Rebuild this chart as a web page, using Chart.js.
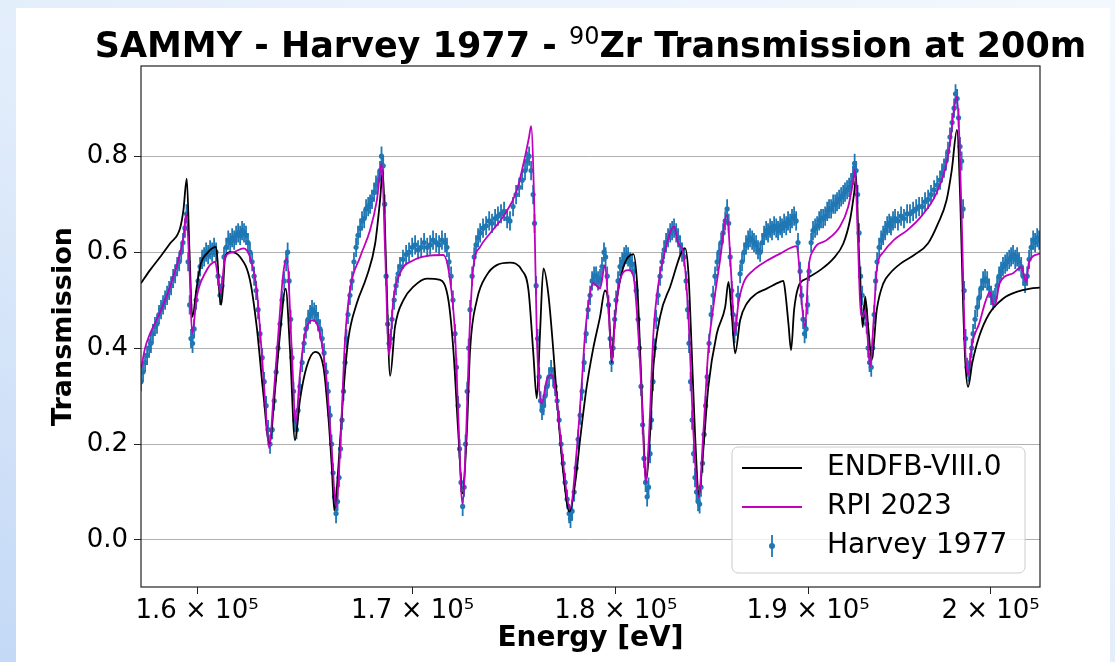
<!DOCTYPE html>
<html>
<head>
<meta charset="utf-8">
<script src="https://cdn.jsdelivr.net/npm/chart.js@4.4.0/dist/chart.umd.min.js"></script>
<style>
  html, body { margin: 0; padding: 0; }
  body {
    width: 1115px; height: 662px; overflow: hidden; position: relative;
    background: linear-gradient(to top right, #c4d9f6 0%, #e2edfb 45%, #f3f8fe 100%);
  }
  #hoja { position: absolute; left: 16px; top: 8px; width: 1094px; height: 654px; background: #fff; }
  #grafica { position: absolute; left: 0; top: 0; }
</style>
</head>
<body>
<div id="hoja"></div>
<canvas id="grafica" width="1115" height="662"></canvas>
<script>
// Ejes
const X_TICKS = [160000, 170000, 180000, 190000, 200000];
const X_LABELS = ['1.6 × 10⁵', '1.7 × 10⁵', '1.8 × 10⁵', '1.9 × 10⁵', '2 × 10⁵'];
const Y_TICKS = [0, 0.2, 0.4, 0.6, 0.8];

// ENDFB-VIII.0 (linea negra)
const ENDF_E = [157500, 157900, 158350, 158790, 159240, 159390, 159540, 159660, 159790, 159990,
  160170, 160440, 160860, 160930, 161000, 161090, 161180, 161270, 161500, 161950,
  162400, 162710, 163010, 163290, 163550, 163780, 164040, 164240, 164470, 164700,
  165010, 165400, 165790, 166020, 166180, 166300, 166490, 166720, 166950, 167350,
  167820, 168220, 168450, 168580, 168740, 168930, 169160, 169560, 170040, 170680,
  171320, 171720, 171960, 172200, 172400, 172610, 172770, 173100, 173580, 174070,
  174720, 175300, 175630, 175870, 176040, 176200, 176370, 176610, 176860, 177110,
  177360, 177660, 177950, 178200, 178530, 178860, 179200, 179450, 179630, 179790,
  179910, 180050, 180380, 180890, 181090, 181230, 181400, 181530, 181740, 181910,
  182250, 182770, 183540, 183710, 183880, 184050, 184260, 184480, 184740, 185180,
  185620, 185790, 185960, 186140, 186400, 186750, 187270, 187800, 188510, 188680,
  188770, 188950, 189090, 189250, 189480, 189930, 190640, 191360, 191890, 192250,
  192470, 192580, 192700, 192850, 192940, 193070, 193250, 193430, 193700, 194060,
  194430, 195000, 195750, 196510, 197070, 197540, 197830, 198120, 198310, 198460,
  198590, 198740, 198970, 199360, 199930, 200700, 201470, 202240, 202800];
const ENDF_T = [0.535, 0.5625, 0.590, 0.618, 0.650, 0.6875, 0.753, 0.604, 0.465, 0.528,
  0.576, 0.597, 0.611, 0.580, 0.520, 0.490, 0.530, 0.590, 0.600, 0.590,
  0.542, 0.444, 0.306, 0.201, 0.3125, 0.430, 0.524, 0.396, 0.208, 0.292,
  0.361, 0.392, 0.361, 0.257, 0.153, 0.061, 0.153, 0.306, 0.417, 0.493,
  0.549, 0.618, 0.708, 0.771, 0.569, 0.342, 0.444, 0.500, 0.528, 0.545,
  0.542, 0.500, 0.396, 0.222, 0.097, 0.222, 0.396, 0.500, 0.552, 0.573,
  0.578, 0.5625, 0.521, 0.389, 0.295, 0.430, 0.566, 0.514, 0.396, 0.257,
  0.139, 0.059, 0.118, 0.210, 0.320, 0.400, 0.465, 0.520, 0.490, 0.370,
  0.440, 0.500, 0.569, 0.596, 0.528, 0.396, 0.222, 0.125, 0.222, 0.361,
  0.465, 0.528, 0.608, 0.556, 0.396, 0.222, 0.094, 0.1875, 0.319, 0.430,
  0.486, 0.538, 0.470, 0.389, 0.458, 0.493, 0.514, 0.524, 0.538, 0.540,
  0.521, 0.451, 0.396, 0.479, 0.528, 0.545, 0.5625, 0.587, 0.618, 0.667,
  0.722, 0.757, 0.632, 0.493, 0.444, 0.507, 0.4375, 0.375, 0.479, 0.535,
  0.556, 0.576, 0.594, 0.618, 0.660, 0.708, 0.771, 0.855, 0.701, 0.493,
  0.368, 0.319, 0.368, 0.424, 0.472, 0.503, 0.517, 0.524, 0.526];

// RPI 2023 (linea magenta)
const RPI_E = [157500, 157680, 157900, 158350, 158790, 159240, 159390, 159510, 159660, 159780,
  159990, 160360, 160820, 160920, 161070, 161270, 161650, 162100, 162400, 162710,
  162940, 163090, 163280, 163470, 163700, 163930, 164090, 164320, 164500, 164700,
  164930, 165320, 165630, 165950, 166180, 166380, 166570, 166800, 167030, 167510,
  167980, 168300, 168530, 168690, 168880, 169080, 169400, 170040, 170680, 171480,
  171800, 172040, 172200, 172400, 172580, 172740, 172930, 173260, 173740, 174390,
  175060, 175460, 175660, 175760, 175910, 176040, 176290, 176530, 176780, 177030,
  177280, 177700, 178030, 178280, 178450, 178700, 178860, 179030, 179200, 179450,
  179620, 179810, 179960, 180210, 180640, 180890, 181140, 181320, 181520, 181690,
  181910, 182170, 182510, 182970, 183190, 183450, 183710, 183970, 184240, 184480,
  184740, 185000, 185350, 185700, 185960, 186110, 186310, 186570, 187100, 187800,
  188510, 189390, 189480, 189660, 189840, 190010, 190280, 190990, 191700, 192150,
  192430, 192520, 192670, 192800, 192940, 193070, 193200, 193340, 193520, 193700,
  194060, 194630, 195380, 196130, 196880, 197450, 197730, 197920, 198120, 198250,
  198410, 198550, 198740, 198970, 199360, 199740, 199970, 200120, 200250, 200510,
  201270, 201760, 201900, 202010, 202180, 202800];
const RPI_T = [0.355, 0.400, 0.430, 0.475, 0.528, 0.597, 0.630, 0.680, 0.569, 0.430,
  0.507, 0.556, 0.580, 0.556, 0.514, 0.590, 0.600, 0.608, 0.590, 0.521,
  0.389, 0.292, 0.191, 0.292, 0.430, 0.556, 0.587, 0.396, 0.243, 0.347,
  0.430, 0.458, 0.430, 0.326, 0.1875, 0.069, 0.1875, 0.417, 0.521, 0.590,
  0.646, 0.708, 0.785, 0.604, 0.385, 0.500, 0.556, 0.583, 0.592, 0.594,
  0.542, 0.430, 0.257, 0.076, 0.222, 0.430, 0.569, 0.611, 0.639, 0.674,
  0.729, 0.799, 0.840, 0.8625, 0.708, 0.430, 0.285, 0.333, 0.344, 0.292,
  0.1875, 0.066, 0.1875, 0.326, 0.430, 0.514, 0.536, 0.530, 0.524, 0.573,
  0.486, 0.372, 0.465, 0.542, 0.5625, 0.550, 0.430, 0.292, 0.118, 0.222,
  0.430, 0.535, 0.604, 0.653, 0.618, 0.597, 0.465, 0.222, 0.090, 0.222,
  0.396, 0.486, 0.583, 0.677, 0.535, 0.430, 0.493, 0.535, 0.5625, 0.582,
  0.597, 0.6125, 0.590, 0.493, 0.444, 0.5625, 0.604, 0.625, 0.653, 0.694,
  0.750, 0.772, 0.632, 0.493, 0.465, 0.479, 0.424, 0.361, 0.451, 0.5625,
  0.600, 0.625, 0.646, 0.674, 0.715, 0.771, 0.826, 0.889, 0.924, 0.840,
  0.632, 0.424, 0.344, 0.410, 0.451, 0.500, 0.517, 0.493, 0.490, 0.535,
  0.556, 0.569, 0.549, 0.538, 0.580, 0.597];

// Harvey 1977 (puntos con barras de error)
const HARVEY_E = [157500, 157590, 157680, 157770, 157860, 157940, 158030, 158120, 158210, 158300,
  158390, 158480, 158570, 158660, 158750, 158840, 158930, 159020, 159110, 159200,
  159290, 159370, 159460, 159530, 159600, 159670, 159730, 159800, 159870, 159960,
  160050, 160140, 160230, 160320, 160410, 160500, 160590, 160680, 160770, 160860,
  160950, 161040, 161130, 161220, 161320, 161410, 161500, 161590, 161680, 161770,
  161860, 161950, 162040, 162130, 162220, 162310, 162400, 162500, 162590, 162680,
  162770, 162860, 162960, 163050, 163140, 163230, 163320, 163420, 163510, 163600,
  163690, 163780, 163870, 163970, 164060, 164130, 164200, 164270, 164330, 164400,
  164470, 164540, 164610, 164700, 164800, 164890, 164980, 165080, 165170, 165260,
  165360, 165450, 165540, 165630, 165730, 165820, 165920, 166010, 166100, 166170,
  166240, 166310, 166380, 166450, 166520, 166590, 166660, 166730, 166800, 166870,
  166940, 167030, 167130, 167220, 167320, 167410, 167510, 167600, 167700, 167790,
  167890, 167980, 168070, 168170, 168260, 168360, 168450, 168520, 168600, 168670,
  168740, 168810, 168880, 168950, 169020, 169120, 169210, 169310, 169400, 169540,
  169690, 169830, 169980, 170120, 170260, 170410, 170550, 170700, 170840, 170980,
  171130, 171270, 171410, 171560, 171650, 171750, 171850, 171940, 172040, 172110,
  172190, 172260, 172330, 172410, 172480, 172550, 172630, 172700, 172770, 172870,
  172970, 173060, 173160, 173260, 173400, 173550, 173700, 173840, 173990, 174130,
  174280, 174430, 174580, 174720, 174870, 175020, 175170, 175320, 175460, 175560,
  175660, 175760, 175860, 175930, 176010, 176080, 176160, 176230, 176300, 176380,
  176450, 176550, 176650, 176750, 176850, 176950, 177050, 177150, 177250, 177350,
  177450, 177550, 177650, 177720, 177800, 177900, 178000, 178100, 178200, 178300,
  178400, 178500, 178600, 178700, 178800, 178900, 179000, 179100, 179200, 179300,
  179400, 179480, 179560, 179630, 179710, 179780, 179860, 179940, 180010, 180110,
  180210, 180320, 180420, 180520, 180620, 180720, 180820, 180930, 181030, 181130,
  181200, 181280, 181360, 181430, 181510, 181590, 181660, 181740, 181810, 181890,
  181970, 182050, 182150, 182250, 182350, 182460, 182560, 182660, 182770, 182870,
  182970, 183080, 183180, 183280, 183380, 183490, 183590, 183670, 183740, 183820,
  183900, 183980, 184050, 184130, 184210, 184290, 184360, 184440, 184520, 184600,
  184680, 184780, 184890, 184990, 185090, 185200, 185300, 185410, 185510, 185620,
  185720, 185800, 185880, 185960, 186030, 186110, 186190, 186290, 186400, 186500,
  186610, 186710, 186820, 186920, 187030, 187130, 187240, 187340, 187450, 187560,
  187660, 187770, 187870, 187980, 188080, 188190, 188300, 188400, 188510, 188610,
  188720, 188830, 188930, 189040, 189140, 189250, 189360, 189460, 189570, 189650,
  189730, 189810, 189890, 189970, 190050, 190160, 190260, 190370, 190480, 190590,
  190690, 190800, 190910, 191020, 191120, 191230, 191340, 191450, 191550, 191660,
  191770, 191880, 191980, 192090, 192200, 192310, 192410, 192500, 192580, 192660,
  192740, 192820, 192910, 192990, 193070, 193150, 193230, 193310, 193400, 193480,
  193560, 193640, 193720, 193830, 193940, 194050, 194160, 194270, 194380, 194480,
  194590, 194700, 194860, 195030, 195190, 195360, 195520, 195690, 195860, 196020,
  196190, 196350, 196520, 196680, 196850, 197020, 197180, 197290, 197400, 197510,
  197620, 197730, 197850, 197960, 198040, 198130, 198210, 198290, 198380, 198460,
  198520, 198600, 198690, 198770, 198850, 198940, 199020, 199130, 199250, 199360,
  199470, 199580, 199690, 199810, 199920, 200030, 200140, 200250, 200370, 200480,
  200590, 200700, 200820, 200930, 201050, 201160, 201270, 201390, 201500, 201610,
  201730, 201840, 201950, 202070, 202180, 202300, 202410, 202520, 202640, 202750];
const HARVEY_T = [0.33, 0.35, 0.37, 0.385, 0.40, 0.41, 0.43, 0.445, 0.45, 0.47,
  0.48, 0.49, 0.50, 0.51, 0.52, 0.53, 0.545, 0.555, 0.57, 0.58,
  0.60, 0.62, 0.65, 0.68, 0.58, 0.49, 0.42, 0.41, 0.44, 0.50,
  0.54, 0.57, 0.585, 0.59, 0.60, 0.595, 0.605, 0.60, 0.61, 0.60,
  0.55, 0.51, 0.53, 0.59, 0.61, 0.625, 0.62, 0.63, 0.625, 0.635,
  0.64, 0.635, 0.645, 0.64, 0.635, 0.62, 0.60, 0.58, 0.55, 0.52,
  0.48, 0.43, 0.38, 0.33, 0.28, 0.23, 0.20, 0.23, 0.29, 0.35,
  0.40, 0.45, 0.50, 0.54, 0.58, 0.60, 0.54, 0.46, 0.38, 0.31,
  0.25, 0.23, 0.27, 0.32, 0.37, 0.41, 0.44, 0.46, 0.47, 0.48,
  0.475, 0.47, 0.455, 0.44, 0.42, 0.39, 0.35, 0.31, 0.26, 0.20,
  0.14, 0.09, 0.055, 0.08, 0.13, 0.19, 0.25, 0.31, 0.37, 0.42,
  0.47, 0.51, 0.54, 0.58, 0.61, 0.635, 0.65, 0.665, 0.67, 0.69,
  0.695, 0.70, 0.71, 0.725, 0.74, 0.75, 0.77, 0.80, 0.78, 0.70,
  0.55, 0.45, 0.41, 0.42, 0.46, 0.50, 0.53, 0.555, 0.57, 0.585,
  0.595, 0.60, 0.61, 0.615, 0.605, 0.61, 0.62, 0.61, 0.615, 0.625,
  0.62, 0.615, 0.625, 0.62, 0.61, 0.58, 0.55, 0.50, 0.43, 0.36,
  0.28, 0.19, 0.12, 0.07, 0.11, 0.20, 0.31, 0.40, 0.48, 0.55,
  0.59, 0.615, 0.63, 0.64, 0.65, 0.655, 0.665, 0.66, 0.67, 0.675,
  0.68, 0.685, 0.67, 0.665, 0.695, 0.72, 0.735, 0.75, 0.77, 0.79,
  0.80, 0.77, 0.72, 0.66, 0.53, 0.42, 0.34, 0.29, 0.27, 0.28,
  0.30, 0.32, 0.34, 0.355, 0.34, 0.32, 0.29, 0.25, 0.20, 0.16,
  0.12, 0.085, 0.055, 0.045, 0.06, 0.10, 0.15, 0.21, 0.26, 0.31,
  0.37, 0.43, 0.48, 0.51, 0.54, 0.55, 0.55, 0.54, 0.545, 0.57,
  0.60, 0.59, 0.55, 0.49, 0.42, 0.37, 0.40, 0.46, 0.50, 0.54,
  0.57, 0.58, 0.59, 0.595, 0.59, 0.58, 0.575, 0.56, 0.52, 0.46,
  0.40, 0.32, 0.24, 0.17, 0.12, 0.09, 0.11, 0.18, 0.25, 0.33,
  0.40, 0.46, 0.51, 0.55, 0.58, 0.605, 0.62, 0.63, 0.64, 0.645,
  0.65, 0.64, 0.63, 0.615, 0.60, 0.59, 0.54, 0.48, 0.41, 0.33,
  0.25, 0.18, 0.13, 0.10, 0.08, 0.075, 0.11, 0.16, 0.22, 0.28,
  0.34, 0.41, 0.47, 0.51, 0.55, 0.58, 0.60, 0.62, 0.64, 0.665,
  0.69, 0.66, 0.59, 0.52, 0.47, 0.43, 0.45, 0.51, 0.555, 0.58,
  0.60, 0.615, 0.625, 0.63, 0.625, 0.62, 0.615, 0.605, 0.60, 0.62,
  0.635, 0.645, 0.64, 0.65, 0.645, 0.655, 0.65, 0.645, 0.655, 0.65,
  0.66, 0.655, 0.665, 0.66, 0.67, 0.675, 0.665, 0.62, 0.56, 0.51,
  0.46, 0.43, 0.44, 0.49, 0.56, 0.62, 0.645, 0.65, 0.655, 0.665,
  0.67, 0.67, 0.675, 0.685, 0.69, 0.69, 0.70, 0.70, 0.705, 0.71,
  0.715, 0.72, 0.725, 0.73, 0.735, 0.745, 0.76, 0.785, 0.77, 0.72,
  0.64, 0.55, 0.51, 0.47, 0.48, 0.45, 0.40, 0.37, 0.36, 0.40,
  0.47, 0.54, 0.58, 0.61, 0.625, 0.635, 0.645, 0.655, 0.66, 0.655,
  0.665, 0.67, 0.665, 0.675, 0.67, 0.68, 0.68, 0.685, 0.69, 0.695,
  0.695, 0.705, 0.71, 0.72, 0.73, 0.74, 0.75, 0.765, 0.775, 0.79,
  0.81, 0.84, 0.87, 0.90, 0.93, 0.92, 0.88, 0.82, 0.79, 0.69,
  0.52, 0.42, 0.36, 0.35, 0.37, 0.40, 0.43, 0.46, 0.485, 0.505,
  0.525, 0.54, 0.545, 0.54, 0.525, 0.51, 0.50, 0.505, 0.53, 0.55,
  0.56, 0.57, 0.575, 0.58, 0.585, 0.59, 0.595, 0.585, 0.59, 0.58,
  0.57, 0.55, 0.535, 0.55, 0.585, 0.61, 0.625, 0.62, 0.63, 0.625];
const HARVEY_ERR = 0.02;

const AZUL = '#1f77b4';
const MAGENTA = '#bf00bf';

Chart.defaults.font.family = '"DejaVu Sans", sans-serif';
Chart.defaults.color = '#000';

// Barras de error, marco, titulo, etiquetas y leyenda
const extras = {
  id: 'extras',
  beforeDatasetDraw(chart, args) {
    if (args.index !== 2) return;
    const { ctx, chartArea: a, scales: { x, y } } = chart;
    ctx.save();
    ctx.beginPath();
    ctx.rect(a.left, a.top, a.right - a.left, a.bottom - a.top);
    ctx.clip();
    ctx.strokeStyle = AZUL;
    ctx.lineWidth = 1.8;
    ctx.beginPath();
    HARVEY_E.forEach((e, i) => {
      const px = x.getPixelForValue(e);
      ctx.moveTo(px, y.getPixelForValue(HARVEY_T[i] - HARVEY_ERR));
      ctx.lineTo(px, y.getPixelForValue(HARVEY_T[i] + HARVEY_ERR));
    });
    ctx.stroke();
    ctx.restore();
  },
  afterDraw(chart) {
    const { ctx, chartArea: a } = chart;
    const cx = (a.left + a.right) / 2;
    ctx.save();

    // marco
    ctx.strokeStyle = '#222';
    ctx.lineWidth = 1.2;
    ctx.strokeRect(a.left, a.top, a.right - a.left, a.bottom - a.top);

    // titulo
    const t1 = 'SAMMY - Harvey 1977 - ', sup = '90', t2 = 'Zr Transmission at 200m';
    const fT = 'bold 35px "DejaVu Sans"', fS = '24px "DejaVu Sans"';
    ctx.font = fT;
    const w1 = ctx.measureText(t1).width, w2 = ctx.measureText(t2).width;
    ctx.font = fS;
    const ws = ctx.measureText(sup).width;
    let x0 = cx - (w1 + ws + w2) / 2;
    ctx.fillStyle = '#000';
    ctx.textBaseline = 'alphabetic';
    ctx.textAlign = 'left';
    ctx.font = fT;
    ctx.fillText(t1, x0, 57);
    ctx.font = fS;
    ctx.fillText(sup, x0 + w1, 44);
    ctx.font = fT;
    ctx.fillText(t2, x0 + w1 + ws, 57);

    // etiquetas de ejes
    ctx.font = 'bold 28px "DejaVu Sans"';
    ctx.textAlign = 'center';
    ctx.fillText('Energy [eV]', cx, 646);
    ctx.font = 'bold 27px "DejaVu Sans"';
    ctx.save();
    ctx.translate(71, (a.top + a.bottom) / 2);
    ctx.rotate(-Math.PI / 2);
    ctx.fillText('Transmission', 0, 0);
    ctx.restore();

    // leyenda
    const lx = 732, ly = 447, lw = 293, lh = 126;
    ctx.beginPath();
    ctx.roundRect(lx, ly, lw, lh, 6);
    ctx.fillStyle = 'rgba(255,255,255,0.8)';
    ctx.fill();
    ctx.strokeStyle = '#cccccc';
    ctx.lineWidth = 1;
    ctx.stroke();
    const filas = [468, 507, 546];
    ctx.lineWidth = 1.8;
    ctx.strokeStyle = '#000';
    ctx.beginPath(); ctx.moveTo(742, filas[0]); ctx.lineTo(802, filas[0]); ctx.stroke();
    ctx.strokeStyle = MAGENTA;
    ctx.beginPath(); ctx.moveTo(742, filas[1]); ctx.lineTo(802, filas[1]); ctx.stroke();
    ctx.strokeStyle = AZUL;
    ctx.lineWidth = 1.8;
    ctx.beginPath(); ctx.moveTo(772, filas[2] - 11); ctx.lineTo(772, filas[2] + 11); ctx.stroke();
    ctx.fillStyle = AZUL;
    ctx.beginPath(); ctx.arc(772, filas[2], 3, 0, Math.PI * 2); ctx.fill();
    ctx.fillStyle = '#000';
    ctx.font = '28px "DejaVu Sans"';
    ctx.textAlign = 'left';
    ctx.textBaseline = 'middle';
    ctx.fillText('ENDFB-VIII.0', 827, filas[0]);
    ctx.fillText('RPI 2023', 827, filas[1]);
    ctx.fillText('Harvey 1977', 827, filas[2]);
    ctx.restore();
  }
};

const puntos = (xs, ys) => xs.map((e, i) => ({ x: e, y: ys[i] }));

const ctx1 = document.getElementById('grafica').getContext('2d');
const chart1 = new Chart(ctx1, {
  type: 'line',
  data: {
    datasets: [
      {
        label: 'ENDFB-VIII.0',
        data: puntos(ENDF_E, ENDF_T),
        borderColor: '#000',
        borderWidth: 1.8,
        pointRadius: 0,
        cubicInterpolationMode: 'monotone',
        order: 2
      },
      {
        label: 'RPI 2023',
        data: puntos(RPI_E, RPI_T),
        borderColor: MAGENTA,
        borderWidth: 1.8,
        pointRadius: 0,
        cubicInterpolationMode: 'monotone',
        order: 1
      },
      {
        label: 'Harvey 1977',
        data: puntos(HARVEY_E, HARVEY_T),
        showLine: false,
        pointRadius: 2.6,
        pointBackgroundColor: AZUL,
        pointBorderWidth: 0,
        order: 3
      }
    ]
  },
  options: {
    responsive: false,
    animation: false,
    devicePixelRatio: 1,
    layout: { padding: { left: 16, top: 66, right: 75, bottom: 0 } },
    plugins: {
      legend: { display: false },
      title: { display: false },
      tooltip: { enabled: false }
    },
    scales: {
      x: {
        type: 'logarithmic',
        min: 157500,
        max: 202800,
        afterBuildTicks: s => { s.ticks = X_TICKS.map(v => ({ value: v })); },
        afterFit: s => { s.height = 75; },
        border: { display: false },
        grid: { drawOnChartArea: false, drawTicks: true, tickLength: 7, tickColor: '#222', tickWidth: 1 },
        ticks: {
          font: { size: 26 },
          color: '#000',
          padding: 2,
          autoSkip: false,
          maxRotation: 0,
          callback: (v, i) => X_LABELS[i]
        }
      },
      y: {
        min: -0.098,
        max: 0.988,
        afterBuildTicks: s => { s.ticks = Y_TICKS.map(v => ({ value: v })); },
        afterFit: s => { s.width = 125; },
        border: { display: false },
        grid: { color: '#b0b0b0', lineWidth: 1, tickLength: 7, tickColor: '#222' },
        ticks: {
          font: { size: 26 },
          color: '#000',
          padding: 6,
          callback: v => v.toFixed(1)
        }
      }
    }
  },
  plugins: [extras]
});
</script>
</body>
</html>
